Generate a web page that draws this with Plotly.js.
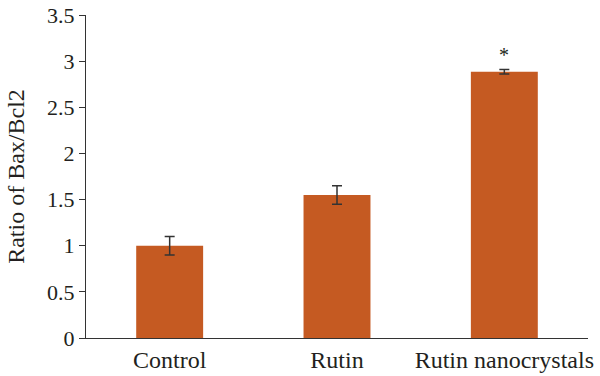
<!DOCTYPE html>
<html>
<head>
<meta charset="utf-8">
<script src="https://cdn.plot.ly/plotly-3.0.1.min.js"></script>
<style>html,body{margin:0;padding:0;background:#fff;}#chart{width:600px;height:376px;}</style>
</head>
<body>
<div id="chart"></div>
<script>
const categories = ["Control", "Rutin", "Rutin nanocrystals"];
const ratios = [1.0, 1.55, 2.885];
const errors = [0.1, 0.1, 0.025];
const marks = ["", "", "*"];
const markY = [null, null, 3.07];
const yTicks = [0, 0.5, 1, 1.5, 2, 2.5, 3, 3.5];
const yTickText = ["0", "0.5", "1", "1.5", "2", "2.5", "3", "3.5"];

const font = "Liberation Serif, Times New Roman, serif";
const ink = "#231F20";

const annotations = [];
categories.forEach((c, i) => {
  if (marks[i]) annotations.push({x: c, y: markY[i], xref: "x", yref: "y", text: marks[i], showarrow: false, font: {family: font, size: 20, color: ink}});
});

Plotly.newPlot("chart", [{
  type: "bar",
  x: categories,
  y: ratios,
  marker: {color: "#C55A22", line: {width: 0}},
  error_y: {type: "data", array: errors, visible: true, color: "#333", thickness: 1.5, width: 5},
  hoverinfo: "skip"
}], {
  width: 600, height: 376,
  margin: {l: 86, r: 12, t: 15, b: 38},
  paper_bgcolor: "#fff", plot_bgcolor: "#fff",
  bargap: 0.6,
  showlegend: false,
  font: {family: font, size: 22, color: ink},
  xaxis: {
    showline: true, linecolor: "#333", linewidth: 1.2, ticks: "", showgrid: false, zeroline: false,
    automargin: false,
    tickfont: {family: font, size: 24, color: ink}
  },
  yaxis: {
    range: [0, 3.5], tickvals: yTicks, ticktext: yTickText,
    showline: true, linecolor: "#333", linewidth: 1.2, ticks: "outside", ticklen: 6, tickcolor: "#333",
    showgrid: false, zeroline: false, automargin: false,
    tickfont: {family: font, size: 22, color: ink},
    title: {text: "Ratio of Bax/Bcl2", font: {family: font, size: 24, color: ink}, standoff: 15}
  },
  annotations: annotations
}, {displayModeBar: false, staticPlot: true});
</script>
</body>
</html>
